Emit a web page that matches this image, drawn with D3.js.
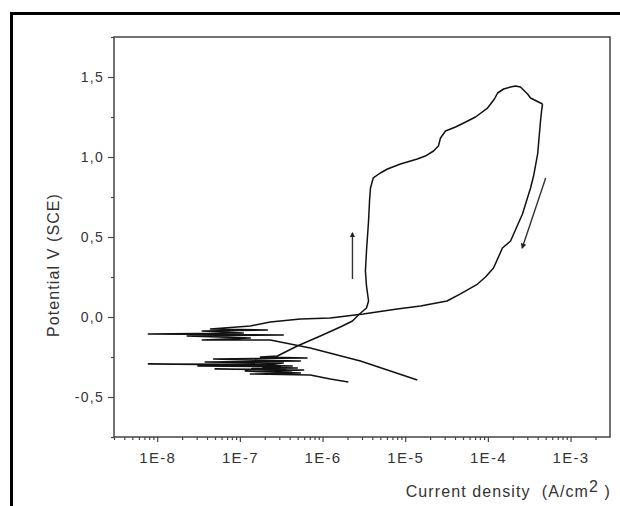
<!doctype html>
<html lang="en">
<head>
  <meta charset="UTF-8">
  <title>Cyclic polarization</title>
  <script src="https://cdn.jsdelivr.net/npm/d3@7"></script>
  <style>
    body { margin: 0; background: #fff; }
    text { font-family: "Liberation Sans", Arial, sans-serif; fill: #333; }
  </style>
</head>
<body>
<div id="container"></div>
<script type="text/javascript">
// forward scan: [current density A/cm2, potential V]
var forwardScan = [
  [2.05e-6, -0.406], [1.24e-6, -0.388], [7.1e-7, -0.363], [1.34e-7, -0.356],
  [5.4e-7, -0.35], [1.16e-7, -0.338], [4.2e-7, -0.345], [1.6e-7, -0.341],
  [5.9e-7, -0.331], [5.0e-8, -0.325], [3.6e-7, -0.328], [1.4e-7, -0.322],
  [4.95e-7, -0.319], [1.9e-7, -0.314], [3.1e-7, -0.31], [3.1e-8, -0.306],
  [4.3e-7, -0.306], [1.5e-7, -0.3], [7.8e-9, -0.294], [2.6e-7, -0.296],
  [3.35e-7, -0.2875], [3.8e-8, -0.281], [5.4e-7, -0.275], [1.7e-7, -0.27],
  [4.8e-8, -0.263], [6.5e-7, -0.256], [1.77e-7, -0.25], [2.84e-7, -0.244],
  [4.95e-7, -0.181], [9.4e-7, -0.119], [1.64e-6, -0.0625], [2.3e-6, -0.025],
  [2.71e-6, 0.0125], [3.4e-6, 0.056], [3.6e-6, 0.1], [3.4e-6, 0.194],
  [3.3e-6, 0.2875], [3.4e-6, 0.4125], [3.6e-6, 0.6], [3.7e-6, 0.725],
  [3.8e-6, 0.806], [4.1e-6, 0.869], [5.0e-6, 0.9], [6.1e-6, 0.925],
  [8.75e-6, 0.956], [1.4e-5, 0.9875], [1.75e-5, 1.006], [2.2e-5, 1.0375],
  [2.52e-5, 1.069], [2.67e-5, 1.119], [3.07e-5, 1.1625], [4.06e-5, 1.1875],
  [5.1e-5, 1.2125], [7.08e-5, 1.25], [9.9e-5, 1.306], [1.2e-4, 1.3625],
  [1.31e-4, 1.4], [1.55e-4, 1.425], [1.88e-4, 1.4375], [2.16e-4, 1.444],
  [2.48e-4, 1.4375], [2.62e-4, 1.425], [3.02e-4, 1.394], [3.28e-4, 1.369],
  [3.87e-4, 1.35], [4.58e-4, 1.331]
];

// reverse scan
var reverseScan = [
  [4.58e-4, 1.331], [4.46e-4, 1.2875], [4.33e-4, 1.225], [4.0e-4, 1.019],
  [3.57e-4, 0.881], [3.28e-4, 0.806], [2.62e-4, 0.644], [1.88e-4, 0.475],
  [1.5e-4, 0.431], [1.17e-4, 0.306], [9.35e-5, 0.25], [7.5e-5, 0.206],
  [4.66e-5, 0.144], [3.2e-5, 0.1], [1.53e-5, 0.069], [8.0e-6, 0.05],
  [3.1e-6, 0.019], [1.24e-6, -0.006], [5.4e-7, -0.0125], [2.33e-7, -0.031],
  [1.34e-7, -0.056], [4.4e-8, -0.075], [2.15e-7, -0.081], [3.5e-8, -0.0875],
  [1.1e-7, -0.1], [7.8e-9, -0.106], [3.35e-7, -0.1125], [2.3e-8, -0.119],
  [1.34e-7, -0.131], [3.5e-8, -0.144], [2.33e-7, -0.144], [4.07e-7, -0.169],
  [7.1e-7, -0.194], [2.87e-6, -0.275], [1.4e-5, -0.394]
];

// scan direction arrows [from, to]
var arrows = [
  [[2.3e-6, 0.2375], [2.3e-6, 0.525]],
  [[5.0e-4, 0.869], [2.6e-4, 0.431]]
];

var xMajor = [1e-8, 1e-7, 1e-6, 1e-5, 1e-4, 1e-3];
var yMajor = [-0.5, 0.0, 0.5, 1.0, 1.5];
var yMinor = [-0.75, -0.25, 0.25, 0.75, 1.25, 1.75];

var width = 620, height = 506;
var svg = d3.select('#container').append('svg')
  .attr('width', width)
  .attr('height', height);

// outer frame
svg.append('rect')
  .attr('x', 11.5).attr('y', 13.5)
  .attr('width', 700).attr('height', 600)
  .attr('fill', 'none').attr('stroke', '#000').attr('stroke-width', 3);

var x = d3.scaleLog().domain([3e-9, 3e-3]).range([114, 610]);
var y = d3.scaleLinear().domain([-0.75, 1.75]).range([437, 37]);

var xMinor = [];
for (var e = -9; e <= -3; e++) {
  for (var m = 2; m <= 9; m++) {
    var v = m * Math.pow(10, e);
    if (v > 3e-9 && v < 3e-3) xMinor.push(v);
  }
}

// minor ticks
svg.append('g')
  .attr('transform', 'translate(0,437)')
  .call(d3.axisBottom(x).tickValues(xMinor).tickSize(3).tickFormat(''))
  .call(function(g) { g.select('.domain').remove(); })
  .selectAll('line').attr('stroke', '#444').attr('stroke-width', 1.2);

svg.append('g')
  .attr('transform', 'translate(114,0)')
  .call(d3.axisLeft(y).tickValues(yMinor).tickSize(3).tickFormat(''))
  .call(function(g) { g.select('.domain').remove(); })
  .selectAll('line').attr('stroke', '#444').attr('stroke-width', 1.2);

// major ticks
var xAxis = svg.append('g')
  .attr('transform', 'translate(0,437)')
  .call(d3.axisBottom(x).tickValues(xMajor).tickSize(5).tickPadding(10)
    .tickFormat(function(d) { return '1E-' + Math.round(-Math.log10(d)); }));
xAxis.select('.domain').remove();
xAxis.selectAll('line').attr('stroke', '#444').attr('stroke-width', 1.2);
xAxis.selectAll('text').style('font-size', '15px').attr('fill', '#333')
  .style('letter-spacing', '1.3px');

var yAxis = svg.append('g')
  .attr('transform', 'translate(114,0)')
  .call(d3.axisLeft(y).tickValues(yMajor).tickSize(6).tickPadding(4)
    .tickFormat(function(d) { return d.toFixed(1).replace('.', ','); }));
yAxis.select('.domain').remove();
yAxis.selectAll('line').attr('stroke', '#444').attr('stroke-width', 1.2);
yAxis.selectAll('text').style('font-size', '14px').attr('fill', '#333')
  .style('letter-spacing', '1.3px');

// plot box
svg.append('rect')
  .attr('x', x.range()[0]).attr('y', y.range()[1])
  .attr('width', x.range()[1] - x.range()[0])
  .attr('height', y.range()[0] - y.range()[1])
  .attr('fill', 'none').attr('stroke', '#444').attr('stroke-width', 1.5);

var line = d3.line()
  .x(function(d) { return x(d[0]); })
  .y(function(d) { return y(d[1]); });

[forwardScan, reverseScan].forEach(function(scan) {
  svg.append('path')
    .datum(scan)
    .attr('d', line)
    .attr('fill', 'none')
    .attr('stroke', '#111')
    .attr('stroke-width', 1.5)
    .attr('stroke-linejoin', 'round');
});

// arrows
svg.append('defs').append('marker')
  .attr('id', 'head')
  .attr('viewBox', '0 0 10 10')
  .attr('refX', 8).attr('refY', 5)
  .attr('markerWidth', 4).attr('markerHeight', 5)
  .attr('orient', 'auto')
  .append('path').attr('d', 'M0,0L10,5L0,10Z').attr('fill', '#222');

arrows.forEach(function(a) {
  svg.append('line')
    .attr('x1', x(a[0][0])).attr('y1', y(a[0][1]))
    .attr('x2', x(a[1][0])).attr('y2', y(a[1][1]))
    .attr('stroke', '#333').attr('stroke-width', 1.4)
    .attr('marker-end', 'url(#head)');
});

// axis titles
svg.append('text')
  .attr('transform', 'translate(59,265) rotate(-90)')
  .attr('text-anchor', 'middle')
  .style('font-size', '16px')
  .style('letter-spacing', '1.1px')
  .text('Potential V  (SCE)');

var xt = svg.append('text')
  .attr('x', 611).attr('y', 497)
  .attr('text-anchor', 'end')
  .style('font-size', '16px')
  .style('letter-spacing', '1.1px')
  .attr('xml:space', 'preserve');
xt.append('tspan').text('Current density  (A/cm');
xt.append('tspan').attr('dy', -5).style('font-size', '16px').text('2');
xt.append('tspan').attr('dy', 5).text(' )');
</script>
</body>
</html>
